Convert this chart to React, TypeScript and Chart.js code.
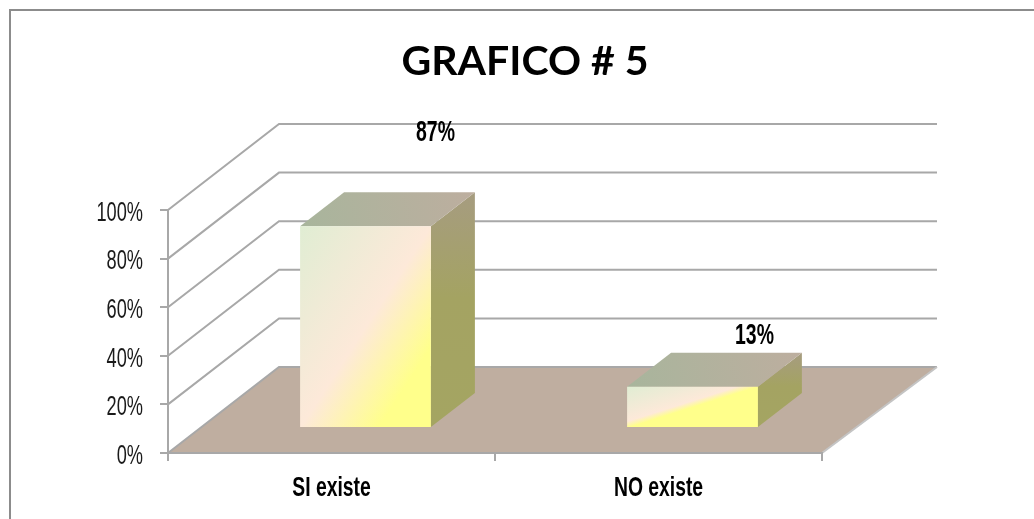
import React, { useEffect, useRef } from "react";
import { Chart, registerables } from "chart.js";

Chart.register(...registerables);

const categories = ["SI existe", "NO existe"];
const barHeights = [83, 17];
const dataLabels = ["87%", "13%"];
const chartTitle = "GRAFICO # 5";

const GRID = "#a8a8a8";
const FRAME = "#8c8c8c";
const BAR_SHIFT = { x: 34, y: -25 };
const BAR_DEPTH = { x: 44, y: -34 };
const FLOOR_BACK = { left: 279, right: 937, rise: 86 };
const LABEL_OFFSET = [{ x: 70, y: -93 }, { x: 62, y: -51 }];
const FRONT_STOPS = [
  [[0, "#e0edd3"], [0.5, "#fde9d9"], [0.8, "#ffff8b"], [1, "#ffff8b"]],
  [[0, "#e0edd3"], [0.42, "#fde9d9"], [0.5, "#ffff8b"], [1, "#ffff8b"]],
];

function narrowText(ctx: CanvasRenderingContext2D, text: string, x: number, y: number, font: string, sx: number, align: CanvasTextAlign, color: string) {
  ctx.save();
  ctx.translate(x, y);
  ctx.scale(sx, 1);
  ctx.font = font;
  ctx.fillStyle = color;
  ctx.textAlign = align;
  ctx.textBaseline = "middle";
  ctx.fillText(text, 0, 0);
  ctx.restore();
}

const box3d = {
  id: "box3d",
  beforeDraw(chart: any) {
    const { ctx, scales, chartArea } = chart;
    const { left, right, bottom } = chartArea;
    const { left: bl, right: br, rise } = FLOOR_BACK;
    ctx.save();
    // chart frame: only the top and left edges fall inside the picture
    ctx.strokeStyle = FRAME;
    ctx.lineWidth = 2;
    ctx.beginPath();
    ctx.moveTo(10, 519);
    ctx.lineTo(10, 10);
    ctx.lineTo(1034, 10);
    ctx.stroke();
    // floor
    ctx.fillStyle = "#bfaea0";
    ctx.beginPath();
    ctx.moveTo(left, bottom);
    ctx.lineTo(bl, bottom - rise);
    ctx.lineTo(br, bottom - rise);
    ctx.lineTo(right, bottom);
    ctx.closePath();
    ctx.fill();
    // walls
    ctx.strokeStyle = GRID;
    ctx.lineWidth = 2;
    scales.y.ticks.forEach((t: any) => {
      const y = scales.y.getPixelForValue(t.value);
      ctx.beginPath();
      ctx.moveTo(left, y);
      ctx.lineTo(bl, y - rise);
      ctx.lineTo(br, y - rise);
      ctx.stroke();
    });
    ctx.beginPath();
    ctx.moveTo(right, bottom);
    ctx.lineTo(br, bottom - rise);
    ctx.strokeStyle = "#c4c4c4";
    ctx.stroke();
    ctx.restore();
  },
  beforeDatasetsDraw(chart: any) {
    const { ctx } = chart;
    chart.getDatasetMeta(0).data.forEach((el: any) => {
      const p = el.getProps(["x", "y", "base", "width"], true);
      const l = p.x - p.width / 2 + BAR_SHIFT.x;
      const r = p.x + p.width / 2 + BAR_SHIFT.x;
      const t = p.y + BAR_SHIFT.y;
      const b = p.base + BAR_SHIFT.y;
      const d = BAR_DEPTH;
      const side = ctx.createLinearGradient(r, t + d.y, r, b);
      side.addColorStop(0, "#a69c80");
      side.addColorStop(0.45, "#a4a362");
      side.addColorStop(1, "#a4a562");
      ctx.fillStyle = side;
      ctx.beginPath();
      ctx.moveTo(r, t);
      ctx.lineTo(r + d.x, t + d.y);
      ctx.lineTo(r + d.x, b + d.y);
      ctx.lineTo(r, b);
      ctx.closePath();
      ctx.fill();
      const top = ctx.createLinearGradient(l, t, r + d.x, t + d.y);
      top.addColorStop(0, "#a8b59c");
      top.addColorStop(1, "#bdae9f");
      ctx.fillStyle = top;
      ctx.beginPath();
      ctx.moveTo(l, t);
      ctx.lineTo(l + d.x, t + d.y);
      ctx.lineTo(r + d.x, t + d.y);
      ctx.lineTo(r, t);
      ctx.closePath();
      ctx.fill();
    });
  },
  beforeDatasetDraw(chart: any) {
    chart.ctx.save();
    chart.ctx.translate(BAR_SHIFT.x, BAR_SHIFT.y);
  },
  afterDatasetDraw(chart: any) {
    chart.ctx.restore();
  },
  afterDraw(chart: any) {
    const { ctx, scales } = chart;
    scales.y.ticks.forEach((t: any) => {
      narrowText(ctx, t.label, 143, scales.y.getPixelForValue(t.value) + 3, "28px 'Liberation Sans'", 0.65, "right", "#1a1a1a");
    });
    categories.forEach((c, i) => {
      narrowText(ctx, c, scales.x.getPixelForValue(i), 488, "bold 28px 'Liberation Sans'", 0.69, "center", "#000000");
    });
    chart.getDatasetMeta(0).data.forEach((el: any, i: number) => {
      const p = el.getProps(["x", "y"], true);
      narrowText(ctx, dataLabels[i], p.x + BAR_SHIFT.x + LABEL_OFFSET[i].x, p.y + BAR_SHIFT.y + LABEL_OFFSET[i].y, "bold 29px 'Liberation Sans'", 0.67, "center", "#000000");
    });
  },
};

function frontFill(c: any) {
  const chart = c.chart;
  const { x: xs, y: ys } = chart.scales;
  if (!xs || !ys || !chart.chartArea) return "#fde9d9";
  const i = c.dataIndex;
  const w = (xs.width / categories.length) * 0.4;
  const top = ys.getPixelForValue(barHeights[i]);
  const bot = ys.getPixelForValue(0);
  const h = bot - top;
  const cx = xs.getPixelForValue(i);
  const cy = (top + bot) / 2;
  const len = Math.hypot(w, h);
  const ux = h / len;
  const uy = w / len;
  const half = (w * h) / len;
  const g = chart.ctx.createLinearGradient(cx - ux * half, cy - uy * half, cx + ux * half, cy + uy * half);
  FRONT_STOPS[i].forEach(([o, col]: any) => g.addColorStop(o, col));
  return g;
}

export default function App() {
  const ref = useRef<HTMLCanvasElement>(null);
  useEffect(() => {
    const chart = new Chart(ref.current!, {
      type: "bar",
      data: {
        labels: categories,
        datasets: [{ data: barHeights, backgroundColor: frontFill, barPercentage: 0.4, categoryPercentage: 1, clip: false } as any],
      },
      plugins: [box3d],
      options: {
        responsive: false,
        animation: false,
        layout: { padding: { left: 20, right: 4, top: 37.4, bottom: 58 } },
        plugins: {
          legend: { display: false },
          tooltip: { enabled: false },
          title: {
            display: true,
            text: chartTitle,
            color: "#000000",
            font: { family: "Lato", size: 41, weight: "bold", lineHeight: 1.2 },
            padding: { top: 0, bottom: 123.4 },
          },
        },
        scales: {
          x: {
            grid: { drawOnChartArea: false, drawTicks: true, tickLength: 8, color: GRID, lineWidth: 2 },
            border: { display: true, color: GRID, width: 2 },
            ticks: { display: false },
          },
          y: {
            min: 0,
            max: 100,
            afterFit(s: any) { s.width = 148; },
            grid: { drawOnChartArea: false, drawTicks: true, tickLength: 8, color: GRID, lineWidth: 2 },
            border: { display: true, color: GRID, width: 2 },
            ticks: { display: false, stepSize: 20, callback: (v: any) => v + "%" },
          },
          spacer: {
            type: "linear",
            position: "right",
            afterFit(s: any) { s.width = 208; },
            grid: { display: false },
            border: { display: false },
            ticks: { display: false },
          },
        },
      } as any,
    });
    return () => chart.destroy();
  }, []);
  return (
    <canvas ref={ref} width={1034} height={519} style={{ position: "fixed", left: 0, top: 0, background: "#ffffff" }} />
  );
}
